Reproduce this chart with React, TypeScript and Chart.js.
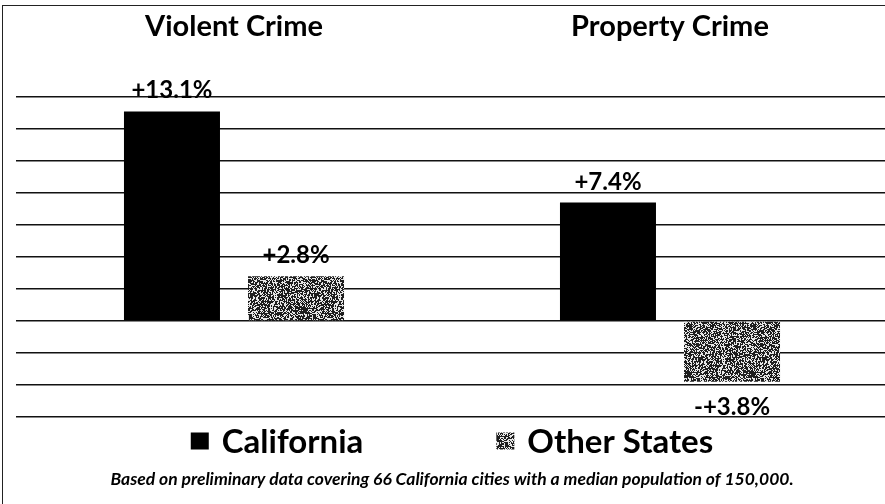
import React, { useEffect, useRef } from "react";
import { Chart, registerables } from "chart.js";

Chart.register(...registerables);

// ---- data ----
const categories = ["Violent Crime", "Property Crime"];
const seriesNames = ["California", "Other States"];
const californiaValues = [13.1, 7.4];
const otherStatesValues = [2.8, -3.8];
const californiaLabels = ["+13.1%", "+7.4%"];
const otherStatesLabels = ["+2.8%", "-+3.8%"];
const footnote =
  "Based on preliminary data covering 66 California cities with a median population of 150,000.";
const yMin = -6;
const yMax = 14;
const yStep = 2;

const valueLabels = [californiaLabels, otherStatesLabels];
const FONT = "Lato";

function makeNoisePattern(ctx: CanvasRenderingContext2D): CanvasPattern | string {
  const size = 64;
  const c = document.createElement("canvas");
  c.width = size;
  c.height = size;
  const g = c.getContext("2d");
  if (!g) return "#777";
  const img = g.createImageData(size, size);
  for (let y = 0; y < size; y++) {
    for (let x = 0; x < size; x++) {
      let h = Math.imul(x + 0x9e37, 0x85ebca6b) ^ Math.imul(y + 0x1234, 0xc2b2ae35);
      h ^= h >>> 13;
      h = Math.imul(h, 0x27d4eb2d);
      h ^= h >>> 15;
      const v = (h >>> 0) / 4294967296;
      const shade = v < 0.6 ? 30 : 230;
      const i = (y * size + x) * 4;
      img.data[i] = shade;
      img.data[i + 1] = shade;
      img.data[i + 2] = shade;
      img.data[i + 3] = 255;
    }
  }
  g.putImageData(img, 0, 0);
  return ctx.createPattern(c, "repeat") || "#777";
}

const valueLabelPlugin = {
  id: "valueLabels",
  afterDatasetsDraw(chart: any) {
    const ctx = chart.ctx;
    ctx.save();
    ctx.font = `bold 24px ${FONT}`;
    ctx.fillStyle = "#000";
    ctx.textAlign = "center";
    ctx.textBaseline = "alphabetic";
    chart.data.datasets.forEach((ds: any, i: number) => {
      const meta = chart.getDatasetMeta(i);
      meta.data.forEach((bar: any, j: number) => {
        const v = ds.data[j];
        const text = valueLabels[i][j];
        const y = v >= 0 ? bar.y - 13 : bar.y + 33;
        ctx.fillText(text, bar.x, y);
      });
    });
    ctx.restore();
  },
};

const customLegendPlugin = {
  id: "customLegend",
  afterDraw(chart: any) {
    const ctx = chart.ctx;
    const area = chart.chartArea;
    const cy = area.bottom + 24;
    const boxW = 18;
    const boxH = 17;
    const textGap = 13;
    const itemGap = 133;
    ctx.save();
    ctx.font = `bold 33px ${FONT}`;
    ctx.textBaseline = "middle";
    ctx.textAlign = "left";
    const items = chart.data.datasets.map((ds: any) => ({
      text: ds.label,
      fill: ds.backgroundColor,
      w: boxW + textGap + ctx.measureText(ds.label).width,
    }));
    const total =
      items.reduce((s: number, it: any) => s + it.w, 0) + itemGap * (items.length - 1);
    let x = (area.left + area.right) / 2 - total / 2;
    items.forEach((it: any) => {
      ctx.fillStyle = it.fill;
      ctx.fillRect(x, cy - boxH / 2, boxW, boxH);
      ctx.fillStyle = "#000";
      ctx.fillText(it.text, x + boxW + textGap, cy + 1);
      x += it.w + itemGap;
    });
    ctx.restore();
  },
};

export default function App() {
  const canvasRef = useRef<HTMLCanvasElement | null>(null);

  useEffect(() => {
    const canvas = canvasRef.current;
    if (!canvas) return;
    const ctx = canvas.getContext("2d");
    if (!ctx) return;
    const pattern = makeNoisePattern(ctx);

    const chart = new Chart(ctx, {
      type: "bar",
      data: {
        labels: categories,
        datasets: [
          {
            label: seriesNames[0],
            data: californiaValues,
            backgroundColor: "#000000",
            categoryPercentage: 0.569,
            barPercentage: 0.774,
          },
          {
            label: seriesNames[1],
            data: otherStatesValues,
            backgroundColor: pattern as any,
            categoryPercentage: 0.569,
            barPercentage: 0.774,
          },
        ],
      },
      options: {
        responsive: false,
        animation: false,
        devicePixelRatio: 1,
        layout: { padding: { top: 7, left: 16, right: 0, bottom: 0 } },
        scales: {
          x: {
            position: "top",
            grid: { display: false },
            border: { display: false },
            ticks: {
              color: "#000",
              padding: 45,
              font: { family: FONT, size: 29, weight: "bold" },
            },
            afterFit(scale: any) {
              scale.height = 90;
            },
          },
          y: {
            min: yMin,
            max: yMax,
            ticks: { display: false, stepSize: yStep },
            border: { display: false },
            grid: { color: "#111", lineWidth: 1.5, drawTicks: false },
          },
        },
        plugins: {
          legend: { display: false },
          tooltip: { enabled: false },
          title: {
            display: true,
            position: "bottom",
            text: footnote,
            color: "#000",
            font: { family: FONT, size: 17.5, weight: "bold", style: "italic" },
            padding: { top: 52, bottom: 14 },
          },
        },
      },
      plugins: [valueLabelPlugin, customLegendPlugin],
    });

    return () => chart.destroy();
  }, []);

  return (
    <div
      style={{
        position: "fixed",
        left: 0,
        top: 0,
        width: 885,
        height: 504,
        overflow: "hidden",
        background: "#fff",
      }}
    >
      <div
        style={{
          position: "absolute",
          left: 2,
          top: 5,
          width: 900,
          height: 600,
          borderTop: "1.5px solid #222",
          borderLeft: "1.5px solid #222",
        }}
      />
      <canvas
        ref={canvasRef}
        width={888}
        height={504}
        style={{ position: "absolute", left: 0, top: 0, width: 888, height: 504 }}
      />
    </div>
  );
}
